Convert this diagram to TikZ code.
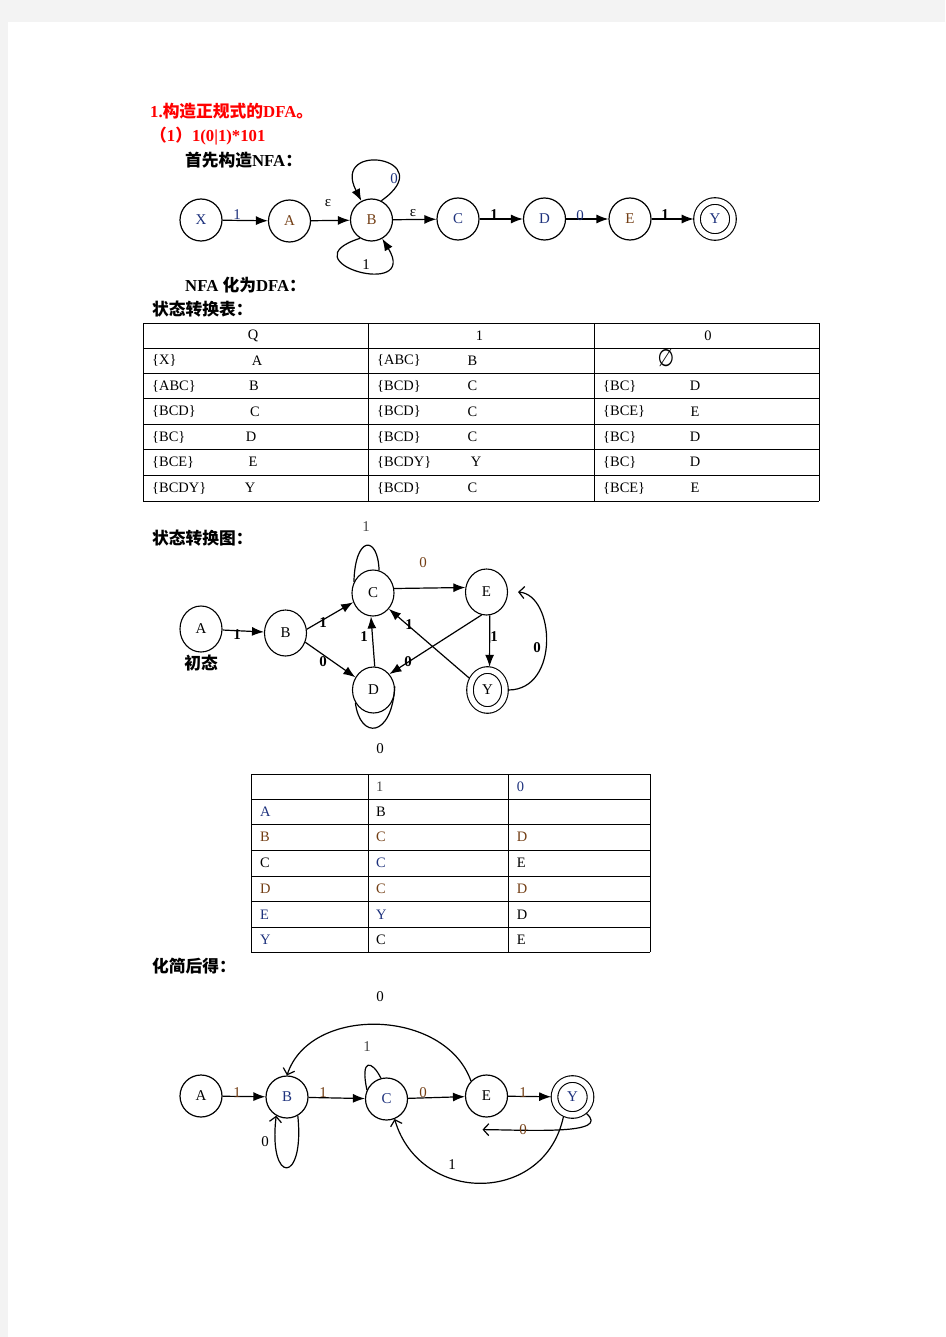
\documentclass[tikz,border=0pt]{standalone}
\usepackage{fontspec}
\setmainfont{Liberation Serif}
\newfontfamily\cjk{Noto Sans CJK SC}
\newfontfamily\symbfont{DejaVu Sans}
\usepackage{tikz}
\usetikzlibrary{arrows,arrows.meta,shapes}
\definecolor{pagegray}{RGB}{243,243,243}
\definecolor{titlered}{RGB}{255,0,0}
\definecolor{inkblue}{RGB}{30,50,125}
\definecolor{inkbrown}{RGB}{115,62,20}
\definecolor{inkgray}{RGB}{70,70,70}

\tikzset{
  state/.style={draw,circle,minimum size=42bp,inner sep=0pt,line width=1.2bp,
    font=\fontsize{15}{17}\selectfont},
  accept/.style={state,minimum size=36bp,double,double distance=5.5bp,
    line width=1.1bp,outer sep=3.3bp},
  dstate/.style={draw,ellipse,minimum width=42bp,minimum height=46bp,inner sep=0pt,
    line width=1.1bp,font=\fontsize{15}{17}\selectfont},
  daccept/.style={dstate,minimum width=35bp,minimum height=40bp,double,
    double distance=5.5bp,outer sep=3.3bp},
  lab/.style={inner sep=0pt,font=\fontsize{15}{17}\selectfont},
  blab/.style={inner sep=0pt,font=\fontsize{15}{17}\selectfont\bfseries},
  heading/.style={anchor=west,inner sep=0pt,font=\fontsize{16.8}{19}\selectfont\bfseries},
  cell/.style={anchor=west,inner sep=0pt,font=\fontsize{14.5}{17}\selectfont},
  conn/.style={line width=1.2bp},
  barbtip/.style={-{Straight Barb[length=5.5bp,width=12bp]}},
}

\begin{document}
\begin{tikzpicture}[x=1bp,y=-1bp,>={Latex[length=12bp,width=9bp]},line join=bevel]
\fill[pagegray] (0,0) rectangle (945,1337);
\fill[white] (8,22) rectangle (945,1337);
\useasboundingbox (0,0) rectangle (945,1337);
%% headings
\node[heading,text=titlered] (h1) at (150,111) {1.{\cjk 构造正规式的}DFA{\cjk 。}};
\node[heading,text=titlered] (h2) at (150,136) {{\cjk （}1{\cjk ）}1(0|1)*101};
\node[heading] (h3) at (185,160) {{\cjk 首先构造}NFA{\cjk ：}};
\node[heading] (h4) at (185,285) {NFA {\cjk 化为}DFA{\cjk ：}};
\node[heading] (h5) at (152,309) {\cjk 状态转换表：};
\node[heading] (h6) at (152,538) {\cjk 状态转换图：};
\node[heading] (h7) at (152,966) {\cjk 化简后得：};
%% NFA
\node[state,text=inkblue] (nX) at (201,220) {X};
\node[state,text=inkbrown] (nA) at (289.5,221) {A};
\node[state,text=inkbrown] (nB) at (371.5,220) {B};
\node[state,text=inkblue] (nC) at (458,219) {C};
\node[state,text=inkblue] (nD) at (544.5,219) {D};
\node[state,text=inkbrown] (nE) at (630,219) {E};
\node[accept,text=inkblue] (nY) at (715,219) {Y};
\draw[->,conn] (nX) -- (nA);
\draw[->,conn] (nA) -- (nB);
\draw[->,conn] (nB) -- (nC);
\draw[->,conn] (nC) -- (nD);
\draw[->,conn] (nD) -- (nE);
\draw[->,conn] (nE) -- (nY);
\draw[->,conn] (nB.63) .. controls (442,158) and (330,140) .. (nB.118);
\draw[->,conn] (nB.238) .. controls (285,262) and (420,300) .. (nB.300);
\node[lab,text=inkblue] (nl1) at (237,215) {1};
\node[lab] (nl2) at (328,203) {ε};
\node[lab] (nl3) at (413,213) {ε};
\node[blab] (nl4) at (494,215) {1};
\node[lab,text=inkblue] (nl5) at (580,216) {0};
\node[blab] (nl6) at (665,215) {1};
\node[lab,text=inkblue] (nl7) at (394,179) {0};
\node[lab] (nl8) at (366,265) {1};
%% table 1
\foreach \y in {323,348,373,398.5,424,449.5,475,501}
  \draw[line width=1bp] (143,\y) -- (819,\y);
\foreach \x in {143,368,594,819}
  \draw[line width=1bp] (\x,323) -- (\x,501);
\node[cell,anchor=center] (tq) at (253,335.5) {Q};
\node[cell,anchor=center] (tone) at (479.5,335.5) {1};
\node[cell,anchor=center] (tzero) at (708,335.5) {0};
\node[cell] (ta1) at (152,360.5) {\{X\}};
\node[cell,anchor=center] (tb1) at (257,360.5) {A};
\node[cell] (tc1) at (377,360.5) {\{ABC\}};
\node[cell,anchor=center] (td1) at (472.5,360.5) {B};
\node[inner sep=0pt,font=\symbfont\fontsize{24}{26}\selectfont,xscale=0.8] (tphi) at (666,358) {∅};
\foreach \y/\sa/\xa/\la/\sb/\lb/\xb/\sc/\lc [count=\i from 2] in {
    386/{\{ABC\}}/254/B/{\{BCD\}}/C/472.5/{\{BC\}}/D,
    411.5/{\{BCD\}}/255/C/{\{BCD\}}/C/472.5/{\{BCE\}}/E,
    437/{\{BC\}}/251/D/{\{BCD\}}/C/472.5/{\{BC\}}/D,
    462/{\{BCE\}}/253/E/{\{BCDY\}}/Y/476/{\{BC\}}/D,
    488/{\{BCDY\}}/250/Y/{\{BCD\}}/C/472.5/{\{BCE\}}/E}
{
  \node[cell] (ta\i) at (152,\y) {\sa};
  \node[cell,anchor=center] (tb\i) at (\xa,\y) {\la};
  \node[cell] (tc\i) at (377,\y) {\sb};
  \node[cell,anchor=center] (td\i) at (\xb,\y) {\lb};
  \node[cell] (te\i) at (603,\y) {\sc};
  \node[cell,anchor=center] (tf\i) at (695,\y) {\lc};
}
%% DFA
\node[dstate] (dA) at (201,629) {A};
\node[dstate] (dB) at (285.5,633) {B};
\node[dstate] (dC) at (373,593) {C};
\node[dstate] (dE) at (486.5,592) {E};
\node[dstate] (dD) at (373.5,690) {D};
\node[daccept] (dY) at (487.5,690) {Y};
\node[heading,anchor=center] (init) at (201,663) {\cjk 初态};
\draw[->,conn] (dA) -- (dB);
\draw[->,conn] (dB.10) -- (dC.205);
\draw[->,conn] (dB.-25) -- (dD.145);
\draw[->,conn] (dD.87) -- (dC.265);
\draw[->,conn] (dC.12) -- (dE.168);
\draw[->,conn] (dE.258) -- (dD.45);
\draw[->,conn] (dY.147) -- (dC.-45);
\draw[->,conn] (dE.-82) -- (dY.85);
\draw[barbtip,conn] (dY.east) .. controls (560,690) and (555,595) .. ([xshift=10bp]dE.east);
\draw[conn] (dC.150) .. controls (355,535) and (378,535) .. (dC.75);
\draw[conn] (dD.215) .. controls (360,740) and (392,738) .. (dD.10);
\node[blab] (dl1) at (237,635) {1};
\node[blab] (dl2) at (323,623) {1};
\node[blab] (dl3) at (323,662) {0};
\node[blab] (dl4) at (364,637) {1};
\node[lab,text=inkbrown] (dl5) at (423,563) {0};
\node[blab] (dl6) at (408,662) {0};
\node[blab] (dl7) at (409,625) {1};
\node[blab] (dl8) at (494,637) {1};
\node[blab] (dl9) at (537,648) {0};
\node[lab,text=inkgray] (dl10) at (366,527) {1};
\node[lab] (dl11) at (380,749) {0};
%% table 2
\foreach \y in {774,799,824.3,850,876,901.7,927.3,952.3}
  \draw[line width=1bp] (251,\y) -- (650,\y);
\foreach \x in {251,368,508,650}
  \draw[line width=1bp] (\x,774) -- (\x,952.3);
\node[cell,text=inkgray] (sone) at (376,786.5) {1};
\node[cell,text=inkblue] (szero) at (516.7,786.5) {0};
\node[cell,text=inkblue] (sa1) at (260,811.7) {A};
\node[cell] (sb1) at (376,811.7) {B};
\foreach \y/\p/\pc/\q/\qc/\r/\rc [count=\i from 2] in {
    837/B/inkbrown/C/inkbrown/D/inkbrown,
    863/C/black/C/inkblue/E/black,
    889/D/inkbrown/C/inkbrown/D/inkbrown,
    914.5/E/inkblue/Y/inkblue/D/black,
    940/Y/inkblue/C/black/E/black}
{
  \node[cell,text=\pc] (sa\i) at (260,\y) {\p};
  \node[cell,text=\qc] (sb\i) at (376,\y) {\q};
  \node[cell,text=\rc] (sc\i) at (516.7,\y) {\r};
}
%% minimised DFA
\node[state] (mA) at (201,1096) {A};
\node[state,text=inkblue] (mB) at (287,1097) {B};
\node[state,text=inkblue] (mC) at (386.5,1099) {C};
\node[state] (mE) at (486.5,1096) {E};
\node[accept,text=inkblue] (mY) at (572.5,1097) {Y};
\draw[->,conn] (mA) -- (mB);
\draw[->,conn] (mB) -- (mC);
\draw[->,conn] (mC) -- (mE);
\draw[->,conn] (mE) -- (mY);
\draw[barbtip,conn] (mE.136) .. controls (445,1008) and (310,1005) .. (mB.north);
\draw[conn] (mC.155) .. controls (360,1058) and (372,1060) .. (mC.105);
\draw[barbtip,conn] (mB.-60) .. controls (305,1185) and (268,1185) .. (mB.-120);
\draw[barbtip,conn] (mY.-50) .. controls (612,1135) and (530,1130) .. ([shift={(-4bp,-12bp)}]mE.south);
\draw[barbtip,conn] (mY.-115) .. controls (545,1205) and (420,1205) .. (mC.-68);
\node[lab,text=inkbrown] (ml1) at (237,1093) {1};
\node[lab,text=inkbrown] (ml2) at (323,1093) {1};
\node[lab,text=inkbrown] (ml3) at (423,1093) {0};
\node[lab,text=inkbrown] (ml4) at (523,1093) {1};
\node[lab] (ml5) at (380,997) {0};
\node[lab,text=inkgray] (ml6) at (367,1047) {1};
\node[lab] (ml7) at (265,1142) {0};
\node[lab,text=inkbrown] (ml8) at (523,1130) {0};
\node[lab] (ml9) at (452,1165) {1};
\end{tikzpicture}
\end{document}
